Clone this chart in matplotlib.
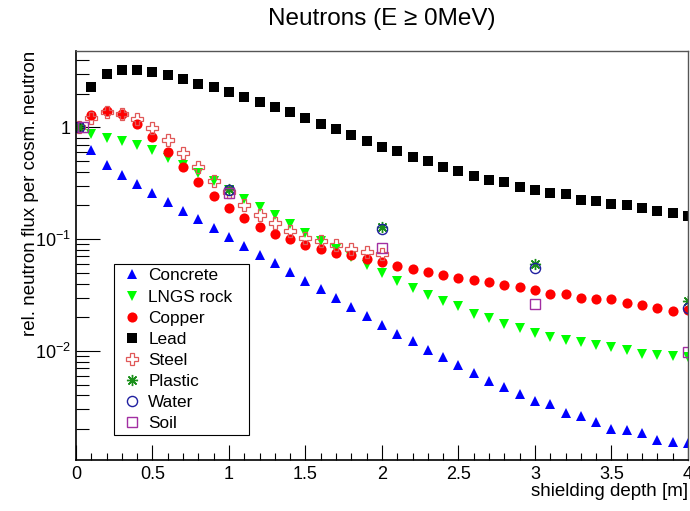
import numpy as np
import matplotlib
matplotlib.use('Agg')
import matplotlib.pyplot as plt
from matplotlib.ticker import FixedLocator, LogLocator, MultipleLocator, NullFormatter

plt.rcParams['font.family'] = ['Liberation Sans', 'DejaVu Sans']
plt.rcParams['mathtext.fontset'] = 'custom'
plt.rcParams['mathtext.rm'] = 'Liberation Sans'
plt.rcParams['mathtext.it'] = 'Liberation Sans:italic'

# profundidad de blindaje [m]
depth = [0.02, 0.1, 0.2, 0.3, 0.4, 0.5, 0.6, 0.7, 0.8, 0.9, 1.0,
         1.1, 1.2, 1.3, 1.4, 1.5, 1.6, 1.7, 1.8, 1.9, 2.0,
         2.1, 2.2, 2.3, 2.4, 2.5, 2.6, 2.7, 2.8, 2.9, 3.0,
         3.1, 3.2, 3.3, 3.4, 3.5, 3.6, 3.7, 3.8, 3.9, 4.0]
depth_sparse = [0.02, 1.0, 2.0, 3.0, 4.0]
depth_soil = [0.045, 1.0, 2.0, 3.0, 4.0]

concrete = [1, 0.627, 0.461, 0.377, 0.311, 0.257, 0.214, 0.179, 0.152, 0.125, 0.105,
            0.0870, 0.0723, 0.0606, 0.0506, 0.0425, 0.0357, 0.0300, 0.0246, 0.0206, 0.0171,
            0.0143, 0.0124, 0.0102, 0.0088, 0.0075, 0.00633, 0.00544, 0.00478, 0.00414, 0.00358,
            0.00339, 0.00280, 0.00261, 0.00232, 0.00199, 0.00196, 0.00183, 0.00160, 0.00153, 0.00151]
rock = [1, 0.866, 0.797, 0.755, 0.695, 0.623, 0.532, 0.461, 0.393, 0.331, 0.275,
        0.230, 0.194, 0.164, 0.136, 0.114, 0.0964, 0.0812, 0.0698, 0.0588, 0.0502,
        0.0421, 0.0369, 0.0317, 0.0279, 0.0251, 0.0216, 0.0198, 0.0176, 0.0161, 0.0146,
        0.0134, 0.0125, 0.0120, 0.0113, 0.0108, 0.0102, 0.0094, 0.0092, 0.0090, 0.0088]
copper = [1, 1.29, 1.40, 1.31, 1.06, 0.819, 0.601, 0.442, 0.327, 0.245, 0.189,
          0.154, 0.129, 0.111, 0.0998, 0.0893, 0.0822, 0.0753, 0.0718, 0.0670, 0.0625,
          0.0580, 0.0538, 0.0506, 0.0482, 0.0447, 0.0430, 0.0417, 0.0390, 0.0377, 0.0352,
          0.0324, 0.0322, 0.0300, 0.0292, 0.0290, 0.0269, 0.0257, 0.0243, 0.0228, 0.0233]
lead = [1, 2.31, 2.98, 3.23, 3.23, 3.12, 2.93, 2.70, 2.45, 2.28, 2.08,
        1.88, 1.69, 1.52, 1.36, 1.22, 1.07, 0.966, 0.848, 0.755, 0.673,
        0.610, 0.547, 0.497, 0.445, 0.407, 0.370, 0.340, 0.322, 0.294, 0.277,
        0.260, 0.252, 0.225, 0.221, 0.208, 0.202, 0.189, 0.180, 0.170, 0.162]
steel = [1, 1.20, 1.36, 1.31, 1.19, 0.98, 0.77, 0.586, 0.442, 0.331, 0.266,
         0.202, 0.164, 0.139, 0.118, 0.102, 0.097, 0.0893, 0.0822, 0.0769, 0.073]
plastic = [1, 0.279, 0.129, 0.060, 0.028]
water = [1, 0.275, 0.124, 0.055, 0.024]
soil = [1, 0.26, 0.084, 0.0264, 0.0097]

fig = plt.figure(figsize=(6.9, 5.11), dpi=100)
ax = fig.add_axes([0.1101, 0.0998, 0.887, 0.8004])

# series con el estilo de marcadores de ROOT
ax.plot(depth, concrete, ls='none', marker='^', ms=7, color='#0000ff', mew=0, label='Concrete')
ax.plot(depth, rock, ls='none', marker='v', ms=7, color='#00ff00', mew=0, label='LNGS rock')
ax.plot(depth, copper, ls='none', marker='o', ms=7.3, color='#ff0000', mew=0, label='Copper')
ax.plot(depth, lead, ls='none', marker='s', ms=6.5, color='black', mew=0, label='Lead')
ax.plot(depth[:len(steel)], steel, ls='none', marker='P', ms=8.5, mfc='none', mec='#e05858',
        mew=0.9, label='Steel')
ax.plot(depth_sparse, plastic, ls='none', marker=(8, 2, 0), ms=8, color='#1a8f1a', mew=1.0,
        label='Plastic')
ax.plot(depth_sparse, water, ls='none', marker='o', ms=7.3, mfc='none', mec='#1f1fa0', mew=1.0,
        label='Water')
ax.plot(depth_soil, soil, ls='none', marker='s', ms=7.3, mfc='none', mec='#a22ea2', mew=1.0,
        label='Soil')

ax.set_yscale('log')
ax.set_xlim(0, 4)
ax.set_ylim(1.06e-3, 4.81)

ax.xaxis.set_major_locator(MultipleLocator(0.5))
ax.xaxis.set_minor_locator(MultipleLocator(0.1))
ax.xaxis.set_major_formatter(plt.FuncFormatter(lambda v, p: f'{v:g}'))
ax.yaxis.set_major_locator(FixedLocator([1e-3, 1e-2, 1e-1, 1]))
ax.yaxis.set_minor_locator(LogLocator(base=10, subs=np.arange(2, 10)))
ax.yaxis.set_minor_formatter(NullFormatter())
etiquetas = {1.0: '1', 0.1: r'$10^{-1}$', 0.01: r'$10^{-2}$', 0.001: r'$10^{-3}$'}
ax.yaxis.set_major_formatter(plt.FuncFormatter(lambda v, p: etiquetas.get(round(v, 6), '')))

ax.tick_params(axis='both', which='both', direction='in', top=False, right=False,
               labelsize=13, width=0.8, color='black')
ax.tick_params(axis='x', which='major', length=11, pad=4)
ax.tick_params(axis='x', which='minor', length=5)
ax.tick_params(axis='y', which='major', length=17, pad=3.5)
ax.tick_params(axis='y', which='minor', length=9)

for lado in ['left', 'bottom']:
    ax.spines[lado].set_linewidth(1.2)
for lado in ['top', 'right']:
    ax.spines[lado].set_linewidth(1.0)
    ax.spines[lado].set_color('#555555')

ax.set_xlabel('shielding depth [m]', fontsize=13.5, loc='right', labelpad=0.5)
ax.set_ylabel('rel. neutron flux per cosm. neutron', fontsize=13.5, loc='top', labelpad=-2.5)
ax.set_title('Neutrons (E \u2265 0MeV)', fontsize=17.5, pad=19)

ley = ax.legend(loc='upper left', bbox_to_anchor=(0.062, 0.1, 0.221, 0.379), mode='expand',
                fontsize=12.4, frameon=True, fancybox=False, framealpha=1, edgecolor='black',
                borderpad=0.25, labelspacing=0.35, handletextpad=0.2, handlelength=1.55,
                borderaxespad=0)
ley.get_frame().set_linewidth(0.8)

fig.savefig('out.png', dpi=100)
